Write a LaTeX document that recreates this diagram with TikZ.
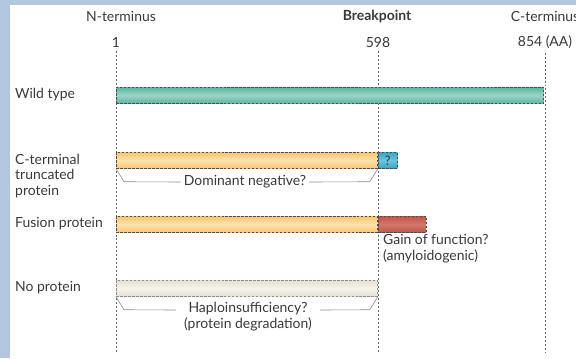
\documentclass[tikz,border=0pt]{standalone}
\usepackage{fontspec}
\setmainfont{Lato}
\usetikzlibrary{positioning}
\definecolor{bgblue}{HTML}{B3C6E0}
\definecolor{txt}{HTML}{3A3A3A}
\definecolor{tealA}{HTML}{5DB5A2}
\definecolor{tealB}{HTML}{9AD6C6}
\definecolor{orA}{HTML}{F9C470}
\definecolor{orB}{HTML}{FDE3B0}
\definecolor{blA}{HTML}{36A6C4}
\definecolor{blB}{HTML}{6CC4DA}
\definecolor{rdA}{HTML}{C0564C}
\definecolor{rdB}{HTML}{D4776C}
\definecolor{bgA}{HTML}{E6E1D2}
\definecolor{bgB}{HTML}{F6F3EA}
\tikzset{
  lbl/.style={font=\fontsize{14}{16}\selectfont, text=txt, inner sep=0pt},
  bar/.style={draw=black!70, dashed, dash pattern=on 2.5pt off 1.5pt, line width=0.8pt, inner sep=0pt, minimum height=16, anchor=north west},
  vline/.style={draw=black!60, line width=0.8pt, dash pattern=on 2pt off 2pt},
  brk/.style={draw=black!45, line width=0.6pt},
}
\begin{document}
\begin{tikzpicture}[x=1bp,y=-1bp]
\useasboundingbox (0,0) rectangle (576,358);
\fill[bgblue] (0,0) rectangle (576,358);
\fill[white] (10,5) rectangle (576,358);
% header
\node[lbl] (nt) at (121,16) {N-terminus};
\node[lbl,font=\fontsize{14}{16}\selectfont\bfseries] (bp) at (377,16) {Breakpoint};
\node[lbl] (ctt) at (545,16) {C-terminus};
\node[lbl] (p1) at (116,42) {1};
\node[lbl] (p598) at (378,42) {598};
\node[lbl] (p854) at (545,42) {854 (AA)};
\coordinate (e1) at (116,353);
\coordinate (e598) at (378,353);
\coordinate (e854) at (545,353);
\draw[vline] ([yshift=-4]p1.south) -- (e1);
\draw[vline] ([yshift=-4]p598.south) -- (e598);
\draw[vline] ([yshift=-4]p854.south) -- (e854);
% row labels
\node[lbl,anchor=west] (lwt) at (15,95) {Wild type};
\node[lbl,anchor=west,align=left] (lct) at (15,176) {C-terminal\\truncated\\protein};
\node[lbl,anchor=west] (lfu) at (15,224) {Fusion protein};
\node[lbl,anchor=west] (lno) at (15,288) {No protein};
% bars
\node[bar, minimum width=429, top color=tealA, bottom color=tealA, middle color=tealB] (wt) at (116,87) {};
\node[bar, minimum width=262, top color=orA, bottom color=orA, middle color=orB] (ct) at (116,152) {};
\node[bar, minimum width=19, top color=blA, bottom color=blA, middle color=blB, font=\fontsize{13}{14}\selectfont, text=txt] (cq) at (378,152) {?};
\node[bar, minimum width=48, top color=rdA, bottom color=rdA, middle color=rdB] (fr) at (378,216) {};
\node[bar, minimum width=262, top color=orA, bottom color=orA, middle color=orB] (fu) at (116,216) {};
\node[bar, minimum width=262, draw=black!45, top color=bgA, bottom color=bgA, middle color=bgB] (np) at (116,280) {};
% annotations
\node[lbl] (dn) at (245,182) {Dominant negative?};
\draw[brk] (ct.south west) -- ++(8,13) -- ([xshift=-3]dn.west);
\draw[brk] (ct.south east) -- ++(-8,13) -- ([xshift=3]dn.east);
\node[lbl,anchor=north west,align=left] (gf) at (383,234) {Gain of function?\\(amyloidogenic)};
\node[lbl,anchor=north,align=center] (hi) at (248,302) {Haploinsufficiency?\\(protein degradation)};
\coordinate (hl) at (176,310);
\coordinate (hr) at (320,310);
\draw[brk] (np.south west) -- ++(8,13) -- (hl);
\draw[brk] (np.south east) -- ++(-8,13) -- (hr);
\end{tikzpicture}
\end{document}
